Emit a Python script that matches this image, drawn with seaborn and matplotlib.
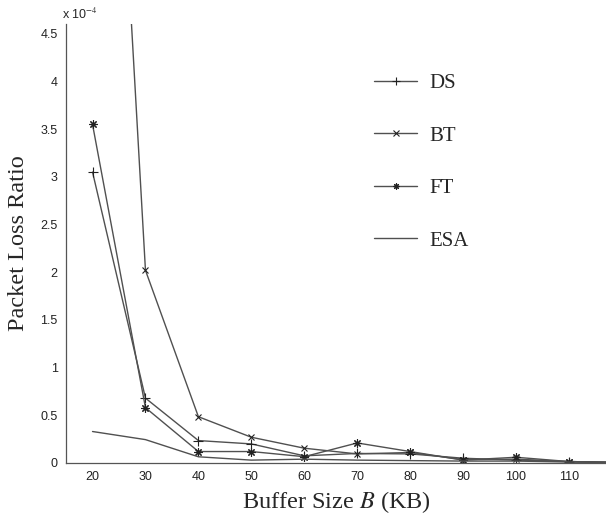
import numpy as np
import pandas as pd
import matplotlib
matplotlib.use("Agg")
import matplotlib.pyplot as plt
import seaborn as sns
from matplotlib.ticker import FuncFormatter
from matplotlib.lines import Line2D

# buffer sizes (KB) and packet loss ratio in units of 1e-4
buffer_kb = [20, 30, 40, 50, 60, 70, 80, 90, 100, 110, 120]
ds_loss = [3.05, 0.68, 0.235, 0.20, 0.075, 0.10, 0.095, 0.05, 0.03, 0.015, 0.005]
bt_loss = [11.8, 2.02, 0.485, 0.27, 0.155, 0.095, 0.11, 0.035, 0.04, 0.015, 0.005]
ft_loss = [3.55, 0.58, 0.12, 0.12, 0.066, 0.21, 0.12, 0.03, 0.06, 0.015, 0.005]
esa_loss = [0.33, 0.245, 0.065, 0.03, 0.04, 0.03, 0.025, 0.02, 0.02, 0.01, 0.005]

series = ["DS", "BT", "FT", "ESA"]
# matlab style markers: plus, cross, 8-arm asterisk, none
markers = {"DS": "+", "BT": "x", "FT": (8, 2, 0), "ESA": None}
msizes = {"DS": 7, "BT": 5, "FT": 6, "ESA": 0}

df = pd.DataFrame({
    "B": buffer_kb * 4,
    "loss": ds_loss + bt_loss + ft_loss + esa_loss,
    "scheme": sum([[s] * len(buffer_kb) for s in series], []),
})

sns.set_style("white")
plt.rcParams["font.family"] = ["Liberation Sans", "DejaVu Sans"]
plt.rcParams["mathtext.fontset"] = "stix"

fig = plt.figure(figsize=(6.06, 5.15), dpi=100)
ax = fig.add_axes([0.109, 0.101, 0.891, 0.852])

col = "#505050"
for s in series:
    sub = df[df.scheme == s]
    sns.lineplot(data=sub, x="B", y="loss", ax=ax, color=col, lw=1.0,
                 marker=markers[s], markersize=msizes[s], markeredgewidth=0.8,
                 markeredgecolor="#222222", legend=False)

ax.set_xlim(15, 117)
ax.set_ylim(0, 4.6)
ax.set_xticks(range(20, 111, 10))
ax.set_yticks(np.arange(0, 4.51, 0.5))
ax.yaxis.set_major_formatter(FuncFormatter(lambda v, p: "%g" % v))
ax.tick_params(direction="in", length=5, labelsize=9, colors="#222222",
               width=0.8, pad=6)
for side in ["top", "right"]:
    ax.spines[side].set_visible(False)
for side in ["left", "bottom"]:
    ax.spines[side].set_color("#555555")
    ax.spines[side].set_linewidth(0.9)

ax.set_xlabel("Buffer Size $B$ (KB)", fontsize=17.5, family="Liberation Serif",
              labelpad=4)
ax.set_ylabel("Packet Loss Ratio", fontsize=17.5, family="Liberation Serif",
              labelpad=8)
ax.text(-0.008, 1.005, "x 10$^{-4}$", transform=ax.transAxes, fontsize=9,
        ha="left", va="bottom", family="Liberation Sans")

handles = [Line2D([], [], color=col, lw=1.0, marker=markers[s] or "",
                  markersize=msizes[s] * 0.75, markeredgewidth=0.8,
                  markeredgecolor="#222222") for s in series]
ax.legend(handles, series, loc="upper left", bbox_to_anchor=(0.535, 0.93),
          frameon=False, handlelength=2.1, handletextpad=0.55,
          labelspacing=1.58, prop={"family": "Liberation Serif", "size": 15})

fig.savefig("out.png", dpi=100)
